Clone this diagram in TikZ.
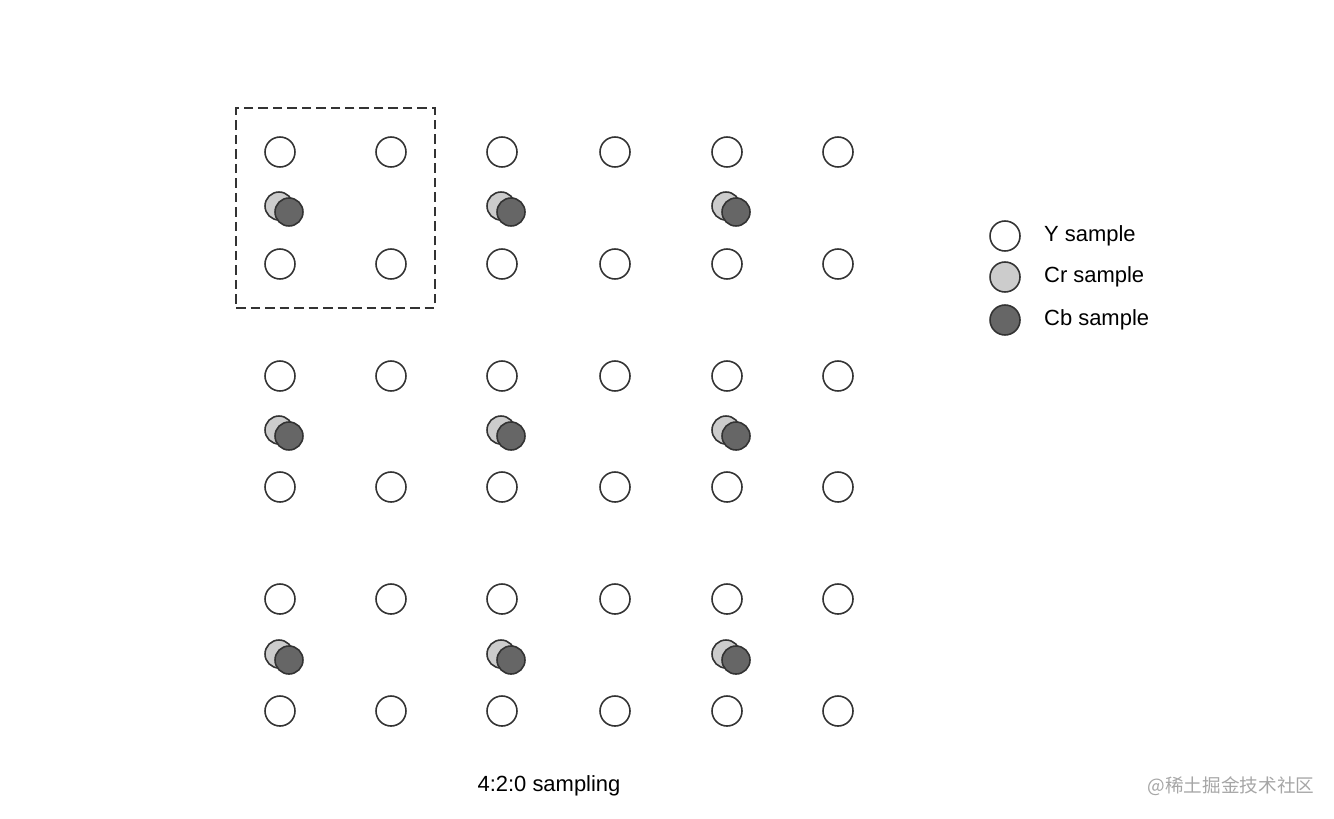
\documentclass[tikz,border=0pt]{standalone}
\usepackage{fontspec}
\setmainfont{Liberation Sans}
\newfontfamily\cjkfont{Noto Sans CJK SC}
\usetikzlibrary{positioning, fit}
\tikzset{
  ysample/.style={circle, draw=black!80, line width=0.9pt, fill=white,
                  minimum size=0.6cm, inner sep=0pt},
  crsample/.style={ysample, fill=black!20, minimum size=0.56cm},
  cbsample/.style={ysample, fill=black!60, minimum size=0.56cm},
  labeltext/.style={font=\fontsize{12.5}{15}\selectfont, inner sep=0pt}
}
\begin{document}
\begin{tikzpicture}[x=0.02cm, y=0.02cm]
\useasboundingbox (0,0) rectangle (1334,-818);

% Luma samples
\foreach \r/\yy in {1/152, 2/264, 3/376, 4/487, 5/599, 6/711}
  \foreach \c/\xx in {1/280, 2/391, 3/502, 4/615, 5/727, 6/838}
    \node[ysample] (Y-\r-\c) at (\xx,-\yy) {};

% Chroma samples (Cr behind Cb)
\foreach \g/\yy in {1/206, 2/430, 3/654}
  \foreach \c/\xx in {1/279, 2/501, 3/726} {
    \node[crsample] (Cr-\g-\c) at (\xx,-\yy) {};
    \node[cbsample] (Cb-\g-\c) at (\xx+10,-\yy-6) {};
  }

% Block of four luma samples
\node[draw=black!80, line width=1.1pt, dash pattern=on 0.19cm off 0.1cm,
      inner sep=0.56cm, fit=(Y-1-1)(Y-2-2)] (Block) {};

% Legend
\node[ysample] (LegY) at (1005,-236) {};
\node[crsample, minimum size=0.6cm] (LegCr) at (1005,-277) {};
\node[cbsample, minimum size=0.6cm] (LegCb) at (1005,-320) {};
\node[labeltext, right=0.46cm of LegY] (TxtY) {Y sample};
\node[labeltext, right=0.46cm of LegCr] (TxtCr) {Cr sample};
\node[labeltext, right=0.46cm of LegCb] (TxtCb) {Cb sample};

% Caption
\node[labeltext] (Caption) at (549,-786) {4:2:0 sampling};

% Watermark
\node[font=\cjkfont\fontsize{10.6}{13}\selectfont, text=black!35, inner sep=0pt]
  (Mark) at (1231,-786) {@稀土掘金技术社区};

\end{tikzpicture}
\end{document}
